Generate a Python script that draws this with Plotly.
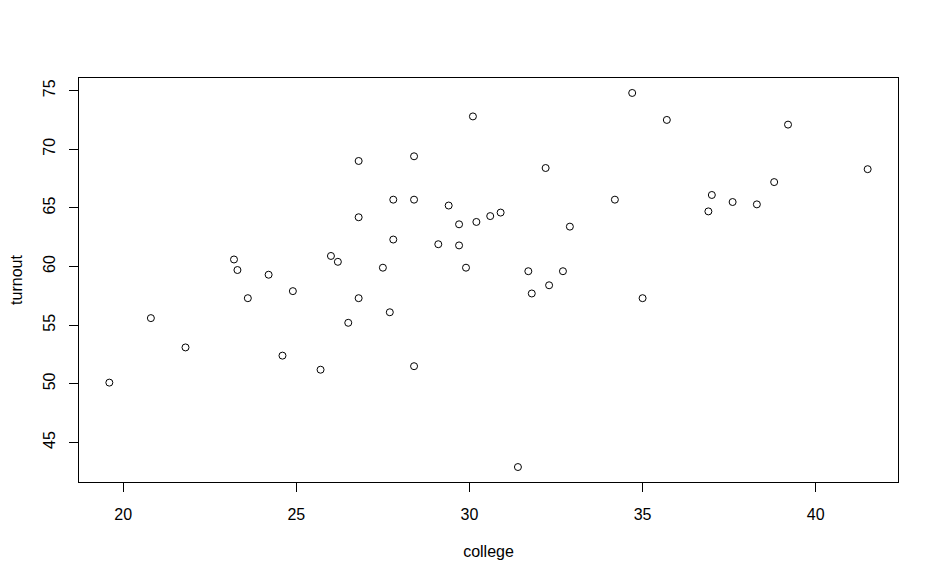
import plotly.graph_objects as go

# college vs turnout, 50 states
college = [26.8, 26.8, 23.2, 23.3, 24.2, 26.0, 26.2,
           34.7, 35.7, 30.1, 28.4, 32.2, 27.8, 28.4, 29.4, 29.7, 30.2, 30.6, 30.9,
           34.2, 32.9, 27.8, 29.1, 29.7, 27.5, 29.9, 31.7, 32.7,
           39.2, 41.5, 38.8, 37.0, 37.6, 38.3, 36.9,
           23.6, 24.9, 20.8, 21.8, 19.6, 24.6, 25.7, 26.5, 26.8,
           32.3, 31.8, 35.0, 27.7, 28.4, 31.4]
turnout = [69.0, 64.2, 60.6, 59.7, 59.3, 60.9, 60.4,
           74.8, 72.5, 72.8, 69.4, 68.4, 65.7, 65.7, 65.2, 63.6, 63.8, 64.3, 64.6,
           65.7, 63.4, 62.3, 61.9, 61.8, 59.9, 59.9, 59.6, 59.6,
           72.1, 68.3, 67.2, 66.1, 65.5, 65.3, 64.7,
           57.3, 57.9, 55.6, 53.1, 50.1, 52.4, 51.2, 55.2, 57.3,
           58.4, 57.7, 57.3, 56.1, 51.5, 42.9]


def r_range(v):
    # R base graphics pads the data range by 4% on each side
    lo, hi = min(v), max(v)
    pad = (hi - lo) * 0.04
    return [lo - pad, hi + pad]


fig = go.Figure(go.Scatter(
    x=college, y=turnout, mode="markers",
    marker=dict(symbol="circle-open", size=7, color="black", line=dict(width=1, color="black")),
))

axis_style = dict(
    showgrid=False, zeroline=False,
    showline=True, mirror=True, linecolor="black", linewidth=1,
    ticks="outside", ticklen=9, tickcolor="black", tickwidth=1,
    tickfont=dict(size=16, color="black"),
)

fig.update_xaxes(
    range=r_range(college), tickvals=[20, 25, 30, 35, 40],
    title=dict(text="college", font=dict(size=16, color="black"), standoff=23),
    ticklabelstandoff=9, **axis_style,
)
fig.update_yaxes(
    range=r_range(turnout), tickvals=[45, 50, 55, 60, 65, 70, 75],
    tickangle=-90,
    title=dict(text="turnout", font=dict(size=16, color="black"), standoff=18),
    ticklabelstandoff=8, **axis_style,
)

# page body adds an 8px offset, margins compensate for it
fig.update_layout(
    width=938, height=580,
    margin=dict(l=71, r=48, t=70, b=106, autoexpand=False),
    plot_bgcolor="white", paper_bgcolor="white",
    font=dict(family="Liberation Sans, Arial, sans-serif", size=16, color="black"),
    showlegend=False,
)

fig.write_html("out.html")
